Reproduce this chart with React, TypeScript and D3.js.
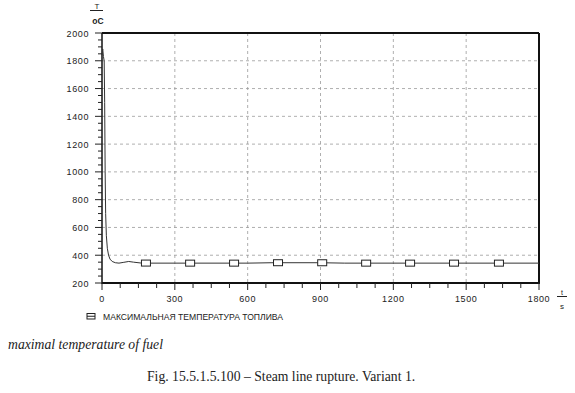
import * as d3 from "d3";

// max fuel temperature, degC, vs time, s
const times = [0, 3, 6, 9, 11, 13, 15, 18, 22, 27, 33, 42, 55, 70, 90, 110, 130, 160, 200, 600, 700, 900, 1000, 1800];
const temps = [1840, 1885, 1830, 1800, 1500, 1000, 700, 540, 450, 400, 372, 355, 346, 343, 349, 355, 350, 344, 343, 343, 346, 346, 343, 343];
const markerTimes = [181, 363, 544, 725, 907, 1088, 1269, 1450, 1635];
const xTicks = [0, 300, 600, 900, 1200, 1500, 1800];
const yTicks = [200, 400, 600, 800, 1000, 1200, 1400, 1600, 1800, 2000];
const legendLabel = "МАКСИМАЛЬНАЯ ТЕМПЕРАТУРА ТОПЛИВА";

const W = 575, H = 393;
const left = 102, right = 539, top = 33, bottom = 283;

const x = d3.scaleLinear().domain([0, 1800]).range([left, right]);
const y = d3.scaleLinear().domain([200, 2000]).range([bottom, top]);

const sans = "Arial, 'Liberation Sans', sans-serif";
const serif = "'Times New Roman', 'Liberation Serif', serif";

export default function App() {
  const pts: [number, number][] = times.map((t, i) => [t, temps[i]]);
  const line = d3
    .line<[number, number]>()
    .x((d) => x(d[0]))
    .y((d) => y(d[1]));
  const valueAt = (t: number) => {
    const i = d3.bisectRight(times, t);
    const t0 = times[i - 1], t1 = times[i];
    return temps[i - 1] + ((temps[i] - temps[i - 1]) * (t - t0)) / (t1 - t0);
  };
  const minorX = d3.range(0, 1801, 75);
  const minorY = d3.range(200, 2001, 50);

  return (
    <svg
      width={W}
      height={H}
      style={{ position: "absolute", left: 0, top: 0, background: "#fff" }}
    >
      {/* grid */}
      {xTicks.slice(1, -1).map((t) => (
        <line key={"gx" + t} x1={x(t)} x2={x(t)} y1={top} y2={bottom}
          stroke="#9a9a9a" strokeWidth={0.8} strokeDasharray="3,3" />
      ))}
      {yTicks.slice(1, -1).map((v) => (
        <line key={"gy" + v} x1={left} x2={right} y1={y(v)} y2={y(v)}
          stroke="#9a9a9a" strokeWidth={0.8} strokeDasharray="3,3" />
      ))}

      {/* frame */}
      <line x1={left} x2={right} y1={top} y2={top} stroke="#111" strokeWidth={2} />
      <line x1={right} x2={right} y1={top} y2={bottom} stroke="#111" strokeWidth={2} />
      <line x1={left} x2={left} y1={top} y2={bottom + 1} stroke="#111" strokeWidth={1.5} />
      <line x1={left} x2={right + 1} y1={bottom} y2={bottom} stroke="#111" strokeWidth={2} />

      {/* y ticks */}
      {minorY.map((v) => (
        <line key={"ty" + v} x1={v % 200 === 0 ? 95 : 98} x2={left} y1={y(v)} y2={y(v)}
          stroke="#222" strokeWidth={1} />
      ))}
      {yTicks.map((v) => (
        <text key={"ly" + v} x={89} y={y(v) + 3.5} textAnchor="end"
          fontFamily={sans} fontSize={9} letterSpacing={0.6} fill="#222">{v}</text>
      ))}

      {/* x ticks */}
      {minorX.map((t) => (
        <line key={"tx" + t} x1={x(t)} x2={x(t)} y1={bottom} y2={bottom + (t % 300 === 0 ? 7 : 5)}
          stroke="#222" strokeWidth={1} />
      ))}
      {xTicks.map((t) => (
        <text key={"lx" + t} x={x(t)} y={302} textAnchor="middle"
          fontFamily={sans} fontSize={9} letterSpacing={0.6} fill="#222">{t}</text>
      ))}

      {/* axis names */}
      <text x={97} y={9} textAnchor="middle" fontFamily={sans} fontSize={8} fill="#222">T</text>
      <line x1={90} x2={103} y1={10.5} y2={10.5} stroke="#222" strokeWidth={1} />
      <text x={98} y={24} textAnchor="middle" fontFamily={sans} fontSize={8.5} fontWeight="bold" fill="#222">oC</text>
      <text x={562} y={295} textAnchor="middle" fontFamily={sans} fontSize={7} fill="#222">t</text>
      <line x1={557} x2={567} y1={296.5} y2={296.5} stroke="#222" strokeWidth={1} />
      <text x={562} y={309} textAnchor="middle" fontFamily={sans} fontSize={8} fill="#222">s</text>

      {/* curve */}
      <path d={line(pts) ?? ""} fill="none" stroke="#333" strokeWidth={1} />
      {markerTimes.map((t) => (
        <rect key={"m" + t} x={x(t) - 4.5} y={y(valueAt(t)) - 3} width={9} height={6}
          fill="#fff" stroke="#222" strokeWidth={1} />
      ))}

      {/* legend */}
      <rect x={87} y={313.5} width={8} height={5.5} fill="#fff" stroke="#222" strokeWidth={1} />
      <line x1={87} x2={95} y1={316.25} y2={316.25} stroke="#222" strokeWidth={1} />
      <text x={103} y={319.5} fontFamily={sans} fontSize={8.6} fill="#222">{legendLabel}</text>

      {/* captions */}
      <text x={8} y={349} fontFamily={serif} fontStyle="italic" fontSize={13.7} fill="#222">
        maximal temperature of fuel
      </text>
      <text x={147} y={381} fontFamily={serif} fontSize={13.7} fill="#222">
        Fig. 15.5.1.5.100 – Steam line rupture. Variant 1.
      </text>
    </svg>
  );
}
